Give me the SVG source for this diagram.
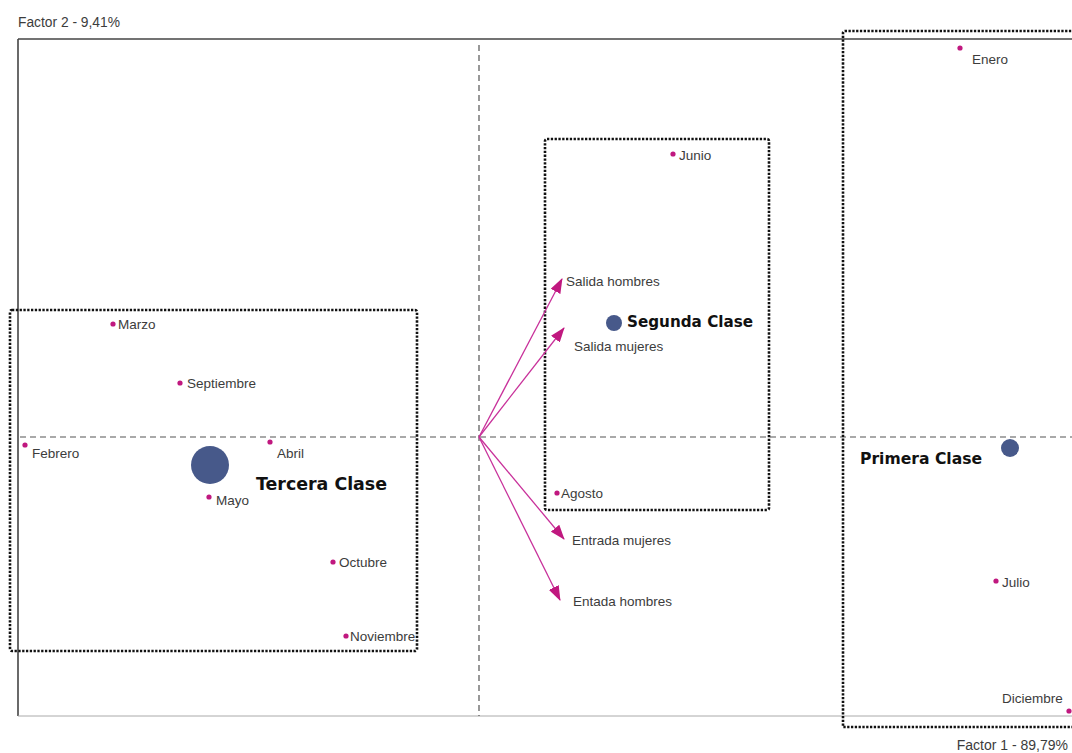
<svg xmlns="http://www.w3.org/2000/svg" width="1072" height="753" viewBox="0 0 1072 753">
<style>
.lbl{font-family:"Liberation Sans",Arial,sans-serif;font-size:13.5px;fill:#3c3c3c}
.cls{font-family:"DejaVu Sans",sans-serif;font-weight:bold;fill:#111}
.pt{fill:#c0187f}
.big{fill:#47598a}
.box{fill:none;stroke:#111;stroke-width:2.6;stroke-dasharray:2.3 1.5}
.axis{fill:none;stroke:#555;stroke-width:1.2;stroke-dasharray:6 4}
.vec{stroke:#c8309a;stroke-width:1.3;fill:none}
</style>
<defs>
<marker id="ah" viewBox="0 0 15 11" refX="14" refY="5.5" markerWidth="15" markerHeight="11" markerUnits="userSpaceOnUse" orient="auto">
<path d="M0,0 L15,5.5 L0,11 Z" fill="#c0187f"/>
</marker>
</defs>
<rect width="1072" height="753" fill="#fff"/>
<g id="frame">
<line x1="18" y1="39" x2="1072" y2="39" stroke="#444" stroke-width="1.6"/>
<line x1="18" y1="39" x2="18" y2="716" stroke="#444" stroke-width="1.6"/>
<line x1="18" y1="716" x2="1072" y2="716" stroke="#aaa" stroke-width="1"/>
<line class="axis" x1="20" y1="437" x2="1072" y2="437"/>
<line class="axis" x1="479" y1="45" x2="479" y2="716"/>
<text class="lbl" x="18" y="27" style="font-size:13.8px">Factor 2 - 9,41%</text>
<text class="lbl" x="1068" y="750" text-anchor="end" style="font-size:14px">Factor 1 - 89,79%</text>
</g>
<g id="groups">
<rect id="box-tercera" class="box" x="10" y="310" width="407" height="341" rx="2"/>
<rect id="box-segunda" class="box" x="545" y="139" width="224" height="371" rx="2"/>
<path id="box-primera" class="box" d="M1075,31 L845,31 Q843,31 843,33 L843,727 L1075,727"/>
</g>
<g id="connectors">
<line class="vec" x1="479" y1="437" x2="562" y2="279" marker-end="url(#ah)"/>
<line class="vec" x1="479" y1="437" x2="564" y2="328" marker-end="url(#ah)"/>
<line class="vec" x1="479" y1="437" x2="564" y2="539" marker-end="url(#ah)"/>
<line class="vec" x1="479" y1="437" x2="560" y2="600" marker-end="url(#ah)"/>
</g>
<g id="vector-labels">
<text class="lbl" x="566" y="286">Salida hombres</text>
<text class="lbl" x="574" y="351">Salida mujeres</text>
<text class="lbl" x="572" y="545">Entrada mujeres</text>
<text class="lbl" x="573" y="606">Entada hombres</text>
</g>
<g id="tercera-clase"><circle class="big" cx="210" cy="465" r="19"/><text class="cls" x="256" y="490" style="font-size:17.4px">Tercera Clase</text></g>
<g id="segunda-clase"><circle class="big" cx="614" cy="323" r="8"/><text class="cls" x="627" y="327" style="font-size:15.2px">Segunda Clase</text></g>
<g id="primera-clase"><circle class="big" cx="1010" cy="448" r="9"/><text class="cls" x="860" y="464" style="font-size:15.6px">Primera Clase</text></g>
<g id="marzo"><circle class="pt" cx="113" cy="324" r="2.6"/><text class="lbl" x="118" y="329">Marzo</text></g>
<g id="septiembre"><circle class="pt" cx="180" cy="383" r="2.6"/><text class="lbl" x="187" y="388">Septiembre</text></g>
<g id="febrero"><circle class="pt" cx="25" cy="445" r="2.6"/><text class="lbl" x="32" y="458">Febrero</text></g>
<g id="abril"><circle class="pt" cx="270" cy="442" r="2.6"/><text class="lbl" x="277" y="458">Abril</text></g>
<g id="mayo"><circle class="pt" cx="209" cy="497" r="2.6"/><text class="lbl" x="216" y="505">Mayo</text></g>
<g id="octubre"><circle class="pt" cx="333" cy="562" r="2.6"/><text class="lbl" x="339" y="567">Octubre</text></g>
<g id="noviembre"><circle class="pt" cx="346" cy="636" r="2.6"/><text class="lbl" x="350" y="641">Noviembre</text></g>
<g id="junio"><circle class="pt" cx="673" cy="154" r="2.6"/><text class="lbl" x="679" y="160">Junio</text></g>
<g id="agosto"><circle class="pt" cx="557" cy="493" r="2.6"/><text class="lbl" x="561" y="498">Agosto</text></g>
<g id="enero"><circle class="pt" cx="960" cy="48" r="2.6"/><text class="lbl" x="972" y="64">Enero</text></g>
<g id="julio"><circle class="pt" cx="996" cy="581" r="2.6"/><text class="lbl" x="1002" y="587">Julio</text></g>
<g id="diciembre"><circle class="pt" cx="1069" cy="711" r="2.6"/><text class="lbl" x="1002" y="703">Diciembre</text></g>
</svg>
